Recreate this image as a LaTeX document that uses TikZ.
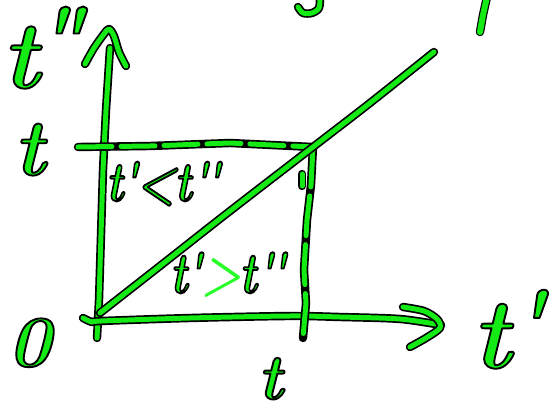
\documentclass[tikz,border=0pt]{standalone}
\usepackage{fontspec}
\newfontfamily\hand{lmroman10-bolditalic}[Extension=.otf, Ligatures=NoCommon]
\definecolor{pg}{RGB}{20,235,20}
\definecolor{lime}{RGB}{40,255,40}
% outlined text: fill with the text colour, stroke in black
\newcommand\olon{\special{pdf:literal direct 2 Tr 0 0 0 RG 1.9 w 1 j 1 J}}
\newcommand\oloff{\special{pdf:literal direct 0 Tr}}
\newcommand\hw[2]{{\hand\fontsize{#1}{#1}\selectfont\olon #2\oloff}}
\newcommand\pr{\symbol{39}}
\begin{document}
\begin{tikzpicture}[x=1pt,y=-1pt,
  pen/.style={draw=pg, line width=5pt, line cap=round, line join=round,
    preaction={draw=black, line width=8.4pt, line cap=round, line join=round}},
  lbl/.style={text=pg, inner sep=0pt, outer sep=0pt}]
\useasboundingbox (0,0) rectangle (550,409);
% key points
\coordinate (vb) at (97,338);
\coordinate (vt) at (110,48);
\coordinate (hs) at (83,318);
\coordinate (he) at (441,325);
\coordinate (o) at (100,313);
\coordinate (c) at (313,147);
\coordinate (de) at (434,52);
\coordinate (hl) at (78,147);
\coordinate (tb) at (303,338);
% vertical axis and arrowhead
\draw[pen] (vb) -- (99,300) -- (103,170) -- (106,110) -- (vt);
\draw[pen] plot[smooth] coordinates {(85,64) (94,48) (104,34) (109,29) (114,36) (119,52) (126,66)};
% horizontal axis and arrowhead
\draw[pen] plot[smooth] coordinates {(hs) (92,322) (101,321) (190,318) (290,316) (340,317) (400,319) (he)};
\draw[pen] plot[smooth] coordinates {(403,307) (424,311) (437,319) (440,328) (426,338) (410,347)};
% dashed level lines
\draw[pen, dash pattern=on 34pt off 9pt] (hl) -- (150,146) -- (230,143) -- (c);
\draw[pen, dash pattern=on 40pt off 9pt] (c) -- (311,185) -- (307,220) -- (304,270) -- (306,303) -- (tb);
\draw[pen] (302,174) -- (302,186);
% diagonal
\draw[pen] plot[smooth] coordinates {(o) (160,266) (230,211) (c) (370,103) (de)};
% cut-off strokes at the top
\draw[pen] plot[smooth] coordinates {(320,-3) (319,8) (312,13) (303,13) (298,7)};
\draw[pen, line width=6pt] (487,-3) -- (483,15) -- (480,32);
% labels
\node[lbl, anchor=base west] (ly) at (2,88) {\hw{96}{t\kern-7pt\raisebox{14pt}{\pr\kern-17pt\pr}}};
\node[lbl, anchor=base west] (lt1) at (14,175) {\hw{80}{t}};
\node[lbl, anchor=base west] (l0) at (8,366) {\hw{72}{0}};
\node[lbl, anchor=base west] (lx) at (472,368) {\hw{100}{t\kern-2pt\raisebox{8pt}{\pr}}};
\node[lbl, anchor=base west] (lt2) at (258,399) {\hw{64}{t}};
\node[lbl, anchor=base west] (lu) at (106,201) {\scalebox{0.8}[1]{\hw{56}{t\kern-2pt\pr\kern-2pt<\kern-2pt t\pr\kern-4pt\pr}}};
\node[lbl, anchor=base west] (ll) at (170,293) {\scalebox{0.78}[1]{\hw{58}{t\kern-2pt\pr\kern-1pt}{\color{lime}\hand\fontsize{58}{58}\selectfont >}\hw{58}{\kern-3pt t\pr\kern-4pt\pr}}};
\end{tikzpicture}
\end{document}
